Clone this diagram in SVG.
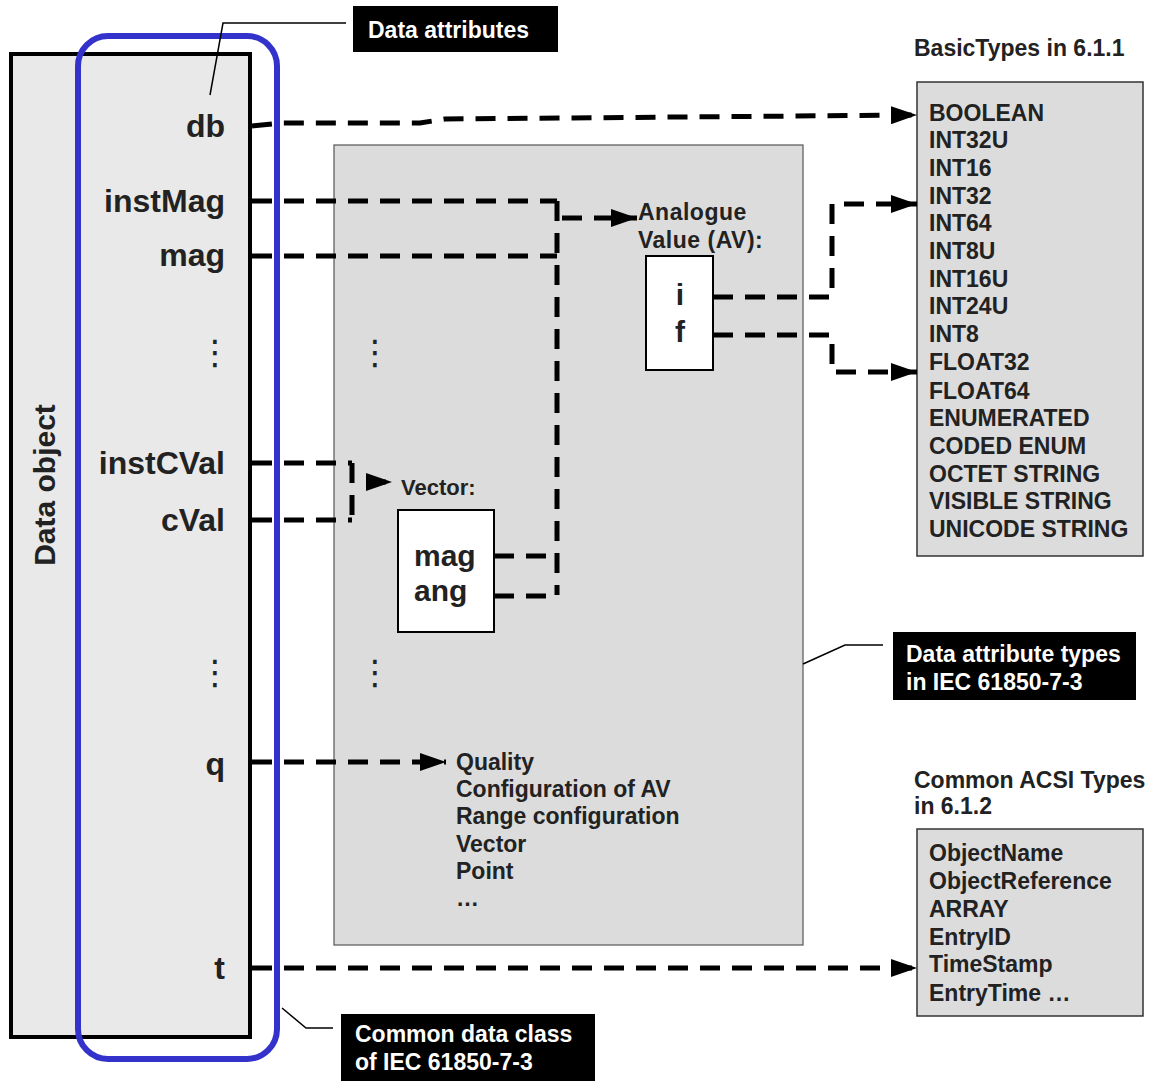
<svg xmlns="http://www.w3.org/2000/svg" width="1155" height="1081" viewBox="0 0 1155 1081">
<defs>
<style>
.b{font-family:"Liberation Sans",Arial,sans-serif;font-weight:bold;fill:#222}
.lbl{font-size:32px;text-anchor:end}
.lst{font-size:23px}
.q{font-size:23px}
.w{font-family:"Liberation Sans",Arial,sans-serif;font-weight:bold;fill:#fff;font-size:23px}
.dash{fill:none;stroke:#000;stroke-width:5;stroke-dasharray:20 12}
.lead{fill:none;stroke:#000;stroke-width:1.5}
.dots{font-family:"DejaVu Sans",sans-serif;font-size:34px;fill:#222;text-anchor:middle}
</style>
<marker id="ah" markerWidth="26" markerHeight="18" refX="26" refY="9" orient="auto" markerUnits="userSpaceOnUse">
<path d="M0,0 L26,9 L0,18 Z" fill="#000"/>
</marker>
</defs>
<rect width="1155" height="1081" fill="#fff"/>

<g id="data-object">
<rect x="11" y="54" width="239" height="983" fill="#e9e9e9" stroke="#000" stroke-width="4"/>
<text class="b" font-size="30" transform="translate(55,485) rotate(-90)" text-anchor="middle">Data object</text>
<text class="b lbl" x="225" y="137">db</text>
<text class="b lbl" x="225" y="212">instMag</text>
<text class="b lbl" x="225" y="266">mag</text>
<text class="dots" x="215" y="364">⋮</text>
<text class="b lbl" x="225" y="474">instCVal</text>
<text class="b lbl" x="225" y="531">cVal</text>
<text class="dots" x="215" y="684">⋮</text>
<text class="b lbl" x="225" y="775">q</text>
<text class="b lbl" x="225" y="979">t</text>
</g>

<g id="attr-types">
<rect x="334" y="145" width="469" height="800" fill="#dcdcdc" stroke="#555" stroke-width="1.2"/>
<text class="dots" x="375" y="364">⋮</text>
<text class="dots" x="375" y="684">⋮</text>
<text class="b q" x="456" y="770">Quality</text>
<text class="b q" x="456" y="797">Configuration of AV</text>
<text class="b q" x="456" y="824">Range configuration</text>
<text class="b q" x="456" y="852">Vector</text>
<text class="b q" x="456" y="879">Point</text>
<text class="b q" x="456" y="906">…</text>
</g>

<g id="av">
<text class="b" font-size="23" letter-spacing="0.5" x="638" y="220">Analogue</text>
<text class="b" font-size="23" letter-spacing="0.5" x="638" y="248">Value (AV):</text>
<rect x="646" y="256" width="67" height="114" fill="#fff" stroke="#000" stroke-width="2"/>
<text class="b" font-size="30" x="680" y="305" text-anchor="middle">i</text>
<text class="b" font-size="30" x="680" y="342" text-anchor="middle">f</text>
</g>

<g id="vector">
<text class="b" font-size="22" x="401" y="495">Vector:</text>
<rect x="398" y="510" width="96" height="122" fill="#fff" stroke="#000" stroke-width="2"/>
<text class="b" font-size="30" x="414" y="566">mag</text>
<text class="b" font-size="30" x="414" y="601">ang</text>
</g>

<g id="basic-types">
<text class="b" font-size="23" x="914" y="56">BasicTypes in 6.1.1</text>
<rect x="917" y="82" width="226" height="474" fill="#dcdcdc" stroke="#333" stroke-width="1.5"/>
<text class="b lst" x="929" y="121">BOOLEAN</text>
<text class="b lst" x="929" y="148">INT32U</text>
<text class="b lst" x="929" y="176">INT16</text>
<text class="b lst" x="929" y="204">INT32</text>
<text class="b lst" x="929" y="231">INT64</text>
<text class="b lst" x="929" y="259">INT8U</text>
<text class="b lst" x="929" y="287">INT16U</text>
<text class="b lst" x="929" y="314">INT24U</text>
<text class="b lst" x="929" y="342">INT8</text>
<text class="b lst" x="929" y="370">FLOAT32</text>
<text class="b lst" x="929" y="399">FLOAT64</text>
<text class="b lst" x="929" y="426">ENUMERATED</text>
<text class="b lst" x="929" y="454">CODED ENUM</text>
<text class="b lst" x="929" y="482">OCTET STRING</text>
<text class="b lst" x="929" y="509">VISIBLE STRING</text>
<text class="b lst" x="929" y="537">UNICODE STRING</text>
</g>

<g id="acsi-types">
<text class="b" font-size="23" x="914" y="788">Common ACSI Types</text>
<text class="b" font-size="23" x="914" y="814">in 6.1.2</text>
<rect x="917" y="829" width="226" height="187" fill="#dcdcdc" stroke="#333" stroke-width="1.5"/>
<text class="b lst" x="929" y="861">ObjectName</text>
<text class="b lst" x="929" y="889">ObjectReference</text>
<text class="b lst" x="929" y="917">ARRAY</text>
<text class="b lst" x="929" y="945">EntryID</text>
<text class="b lst" x="929" y="972">TimeStamp</text>
<text class="b lst" x="929" y="1001">EntryTime …</text>
</g>

<g id="connectors">
<path class="dash" d="M252,126 L282,123 L420,123 L445,119 L917,115" marker-end="url(#ah)"/>
<path class="dash" d="M252,201 H557"/>
<path class="dash" d="M252,256 H557"/>
<path class="dash" d="M557,201 V595"/>
<path class="dash" d="M562,218 H637" marker-end="url(#ah)"/>
<path class="dash" d="M494,556 H557"/>
<path class="dash" d="M494,596 H557"/>
<path class="dash" d="M252,463 H352"/>
<path class="dash" d="M252,520 H352"/>
<path class="dash" d="M352,463 V520"/>
<path class="dash" d="M366,482 H392" marker-end="url(#ah)"/>
<path class="dash" d="M252,762 H446" marker-end="url(#ah)"/>
<path class="dash" d="M252,968 H917" marker-end="url(#ah)"/>
<path class="dash" d="M713,297 H832 V204 H917" marker-end="url(#ah)"/>
<path class="dash" d="M713,335 H832 V372 H917" marker-end="url(#ah)"/>
</g>

<g id="cdc-outline">
<rect x="78" y="36" width="199" height="1023" rx="30" ry="30" fill="none" stroke="#3333cc" stroke-width="6"/>
</g>

<g id="callout-data-attributes">
<polyline class="lead" points="210,95 223,23 346,23"/>
<rect x="353" y="6" width="205" height="46" fill="#000"/>
<text class="w" x="368" y="38">Data attributes</text>
</g>

<g id="callout-attr-types">
<polyline class="lead" points="803,664 845,645 883,645"/>
<rect x="893" y="632" width="243" height="68" fill="#000"/>
<text class="w" x="906" y="662">Data attribute types</text>
<text class="w" x="906" y="690">in IEC 61850-7-3</text>
</g>

<g id="callout-cdc">
<polyline class="lead" points="282,1008 306,1028 333,1028"/>
<rect x="341" y="1014" width="254" height="67" fill="#000"/>
<text class="w" x="355" y="1042">Common data class</text>
<text class="w" x="355" y="1070">of IEC 61850-7-3</text>
</g>
</svg>
